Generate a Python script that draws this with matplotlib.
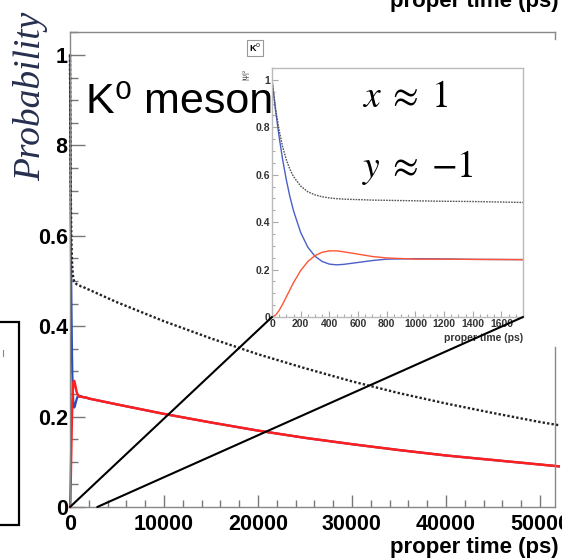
import matplotlib.pyplot as plt
from matplotlib.patches import Rectangle, ConnectionPatch
from matplotlib.ticker import MultipleLocator

plt.rcParams['font.family'] = ['Liberation Sans', 'DejaVu Sans']

# early times (inset), proper time in ps
t_short = [0, 25, 50, 75, 100, 125, 150, 200, 250, 300, 350, 400, 450, 500,
           600, 700, 800, 1000, 1200, 1400, 1750]
p_k0 = [1.0, 0.870, 0.758, 0.661, 0.578, 0.507, 0.448, 0.356, 0.294, 0.256,
        0.234, 0.223, 0.220, 0.222, 0.230, 0.238, 0.244, 0.246, 0.245, 0.243, 0.242]
p_k0bar = [0.0, 0.008, 0.028, 0.055, 0.085, 0.115, 0.145, 0.196, 0.234, 0.259,
           0.273, 0.279, 0.279, 0.275, 0.265, 0.255, 0.249, 0.244, 0.244, 0.243, 0.242]
p_total = [1.0, 0.878, 0.786, 0.716, 0.663, 0.623, 0.592, 0.552, 0.528, 0.515,
           0.507, 0.502, 0.499, 0.497, 0.495, 0.493, 0.492, 0.490, 0.488, 0.487, 0.483]

# late times (main plot only)
t_long = [2000, 5000, 10000, 15000, 20000, 25000, 30000, 35000, 40000, 45000, 50000, 52000]
p_half_long = [0.240, 0.227, 0.206, 0.187, 0.169, 0.153, 0.139, 0.126, 0.114, 0.104, 0.094, 0.090]
p_total_long = [0.481, 0.453, 0.411, 0.373, 0.338, 0.307, 0.278, 0.252, 0.229, 0.208, 0.188, 0.181]

main_xticks = [0, 10000, 20000, 30000, 40000, 50000]
main_yticks = [0, 0.2, 0.4, 0.6, 0.8, 1.0]
main_yticklabels = ['0', '0.2', '0.4', '0.6', '0.8', '1']
inset_xticks = [0, 200, 400, 600, 800, 1000, 1200, 1400, 1600]
inset_yticklabels = ['0', '0.2', '0.4', '0.6', '0.8', '1']

# zoom connector anchors: main data point -> inset axes corner
link_main = [(0, 0), (2900, 0)]
link_inset = [(0, 0), (1, 0)]

W, H = 562, 560


def px(x, y):
    return x / W, 1 - y / H


fig = plt.figure(figsize=(W / 100, H / 100), dpi=100)

# main axes
ax = fig.add_axes([70 / W, 53 / H, 485 / W, 475 / H])
t_main = t_short + t_long
ax.plot(t_main, p_k0 + p_half_long, color='#2b4db5', lw=1.6, clip_on=False)
ax.plot(t_main, p_k0bar + p_half_long, color='#ff1f1f', lw=1.8, clip_on=False)
ax.plot(t_main, p_total + p_total_long, color='#222222', lw=1.7, ls=(0, (1, 0.9)), clip_on=False)
ax.set_xlim(0, 51600)
ax.set_ylim(0, 1.051)
ax.set_xticks(main_xticks)
ax.set_xticklabels([str(v) for v in main_xticks], fontweight='bold', fontsize=15.5)
ax.set_yticks(main_yticks)
ax.set_yticklabels(main_yticklabels, fontweight='bold', fontsize=15.5)
ax.xaxis.set_minor_locator(MultipleLocator(2000))
ax.yaxis.set_minor_locator(MultipleLocator(0.05))
ax.tick_params(axis='y', which='major', direction='in', length=11, width=1, color='#777777', pad=1.5)
ax.tick_params(axis='y', which='minor', direction='in', length=5.5, width=1, color='#777777')
ax.tick_params(axis='x', which='major', direction='in', length=9, width=1, color='#777777', pad=5)
ax.tick_params(axis='x', which='minor', direction='in', length=5, width=1, color='#777777')
for s in ['left', 'bottom', 'top', 'right']:
    ax.spines[s].set_color('#888888')
    ax.spines[s].set_linewidth(1)
ax.spines['right'].set_bounds(0, 0.354)
ax.plot([1, 1], [1, 0.985], transform=ax.transAxes, color='#888888', lw=1, clip_on=False)

# inset
axins = fig.add_axes([272 / W, (H - 317) / H, 251 / W, 249 / H])
axins.plot(t_short, p_k0, color='#4a5fc8', lw=1.0)
axins.plot(t_short, p_k0bar, color='#ff5535', lw=1.0)
axins.plot(t_short, p_total, color='#555555', lw=1.0, ls=(0, (1.2, 0.8)))
axins.set_xlim(0, 1750)
axins.set_ylim(0, 1.05)
axins.set_xticks(inset_xticks)
axins.set_xticklabels([str(v) for v in inset_xticks], fontweight='bold', fontsize=7.5, color='#333333')
axins.set_yticks(main_yticks)
axins.set_yticklabels(inset_yticklabels, fontweight='bold', fontsize=7.5, color='#333333')
axins.xaxis.set_minor_locator(MultipleLocator(50))
axins.yaxis.set_minor_locator(MultipleLocator(0.05))
axins.tick_params(which='major', direction='in', length=4.5, width=0.8, color='#aaaaaa', pad=1.5)
axins.tick_params(which='minor', direction='in', length=2.5, width=0.8, color='#aaaaaa')
for s in axins.spines.values():
    s.set_color('#bbbbbb')
    s.set_linewidth(1)
fig.text(*px(523, 338), 'proper time (ps)', ha='right', va='center',
         fontsize=7.5, fontweight='bold', color='#333333')
fig.text(*px(255, 48), 'K$^0$', ha='center', va='center', fontsize=6.5, fontweight='bold',
         bbox=dict(boxstyle='square,pad=0.25', fc='white', ec='#999999', lw=0.8))
fig.text(*px(246, 74), '|ψ|²', ha='center', va='center', rotation=90, fontsize=5, color='#444444')

# connector lines
for a, b in zip(link_main, link_inset):
    con = ConnectionPatch(xyA=a, coordsA=ax.transData, xyB=b, coordsB=axins.transAxes,
                          color='black', lw=1.5, zorder=6)
    fig.add_artist(con)

# annotations
fig.text(*px(86, 102), 'K⁰ meson', ha='left', va='center', fontsize=31)
fig.text(*px(362, 107), r'$x\;\approx\;1$', ha='left', va='baseline', fontsize=27,
         math_fontfamily='stix')
fig.text(*px(362, 177), r'$y\;\approx\;{-}1$', ha='left', va='baseline', fontsize=27,
         math_fontfamily='stix')

# white patch under the y title (hides part of the 0.8 label, as in the source)
fig.add_artist(Rectangle((0, 1 - 190 / H), 57 / W, 190 / H, transform=fig.transFigure,
                         fc='white', ec='none', zorder=4))
fig.text(*px(31, 96), 'Probability', rotation=90, ha='center', va='center', fontsize=27,
         family='Liberation Serif', style='italic', color='#26304e', zorder=5)

fig.text(*px(559, 553), 'proper time (ps)', ha='right', va='baseline',
         fontsize=16, fontweight='bold')
fig.text(*px(559, 7), 'proper time (ps)', ha='right', va='baseline',
         fontsize=16, fontweight='bold')

# partial box at the left edge
fig.add_artist(Rectangle((-0.02, 1 - 525 / H), 0.02 + 19 / W, 203 / H, transform=fig.transFigure,
                         fc='none', ec='black', lw=1.6, zorder=4))
fig.add_artist(plt.Line2D([3 / W, 3 / W], [1 - 350 / H, 1 - 356 / H], transform=fig.transFigure,
                          color='#888888', lw=0.8))

fig.savefig('out.png', dpi=100)
